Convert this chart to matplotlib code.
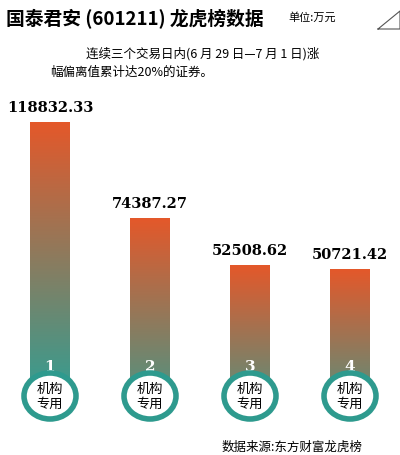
import matplotlib.pyplot as plt
import numpy as np
from matplotlib.patches import Ellipse
from matplotlib.colors import to_rgb

plt.rcParams['font.family'] = ['Noto Sans CJK SC', 'DejaVu Sans']

ranks = ['1', '2', '3', '4']
values = [118832.33, 74387.27, 52508.62, 50721.42]
seat = '机构\n专用'

W, H = 400, 456
fig = plt.figure(figsize=(W / 100, H / 100), dpi=100)
fig.patch.set_facecolor('white')
base_px = 380
ax = fig.add_axes([0, 1 - base_px / H, 1, base_px / H])
ymax = values[0] * base_px / 257
ax.set_xlim(-0.5, 3.5)
ax.set_ylim(0, ymax)
ax.axis('off')

top_c = np.array(to_rgb('#e4582a'))
bot_c = np.array(to_rgb('#3e9a8c'))
bw = 0.4
upx = ymax / base_px  # data units per pixel
for i, v in enumerate(values):
    frac = v / values[0]
    bottom = top_c + (bot_c - top_c) * (0.45 + 0.55 * frac)
    t = np.linspace(0, 1, 256)[:, None]
    grad = bottom[None, :] * (1 - t) + top_c[None, :] * t
    ax.imshow(grad[:, None, :], extent=[i - bw / 2, i + bw / 2, 0, v],
              origin='lower', aspect='auto', zorder=1)
    ax.text(i, v + 8 * upx, f'{v:.2f}', ha='center', va='bottom',
            family='DejaVu Serif', fontweight='bold', fontsize=10.5)
    ax.text(i, 13 * upx, ranks[i], ha='center', va='center', color='white',
            family='DejaVu Serif', fontweight='bold', fontsize=11, zorder=3)
    ax.add_patch(Ellipse((i, -17 * upx), 0.52, 46 * upx, facecolor='white',
                         edgecolor='#2e9a8e', lw=4, clip_on=False, zorder=4))
    ax.text(i, -17 * upx, seat, ha='center', va='center', fontsize=9.5,
            linespacing=1.15, zorder=5, clip_on=False)
ax.set_ylim(0, ymax)

fig.text(6 / W, 1 - 18 / H, '国泰君安 (601211) 龙虎榜数据', fontsize=13.5,
         fontweight='bold', va='center', family=['Noto Sans CJK SC', 'DejaVu Serif'])
fig.text(288 / W, 1 - 17 / H, '单位:万元', fontsize=8, va='center')
fig.text(86 / W, 1 - 54 / H, '连续三个交易日内(6 月 29 日—7 月 1 日)涨', fontsize=9, va='center')
fig.text(50 / W, 1 - 72 / H, '幅偏离值累计达20%的证券。', fontsize=9, va='center')
fig.text(222 / W, 1 - 447 / H, '数据来源:东方财富龙虎榜', fontsize=9, va='center')
fig.add_artist(plt.Line2D([378 / W, 1, 1, 378 / W], [1 - 30 / H, 1 - 12 / H, 1 - 30 / H, 1 - 30 / H],
                          color='#555555', lw=0.8))

fig.savefig('out.png', dpi=100, facecolor='white')
